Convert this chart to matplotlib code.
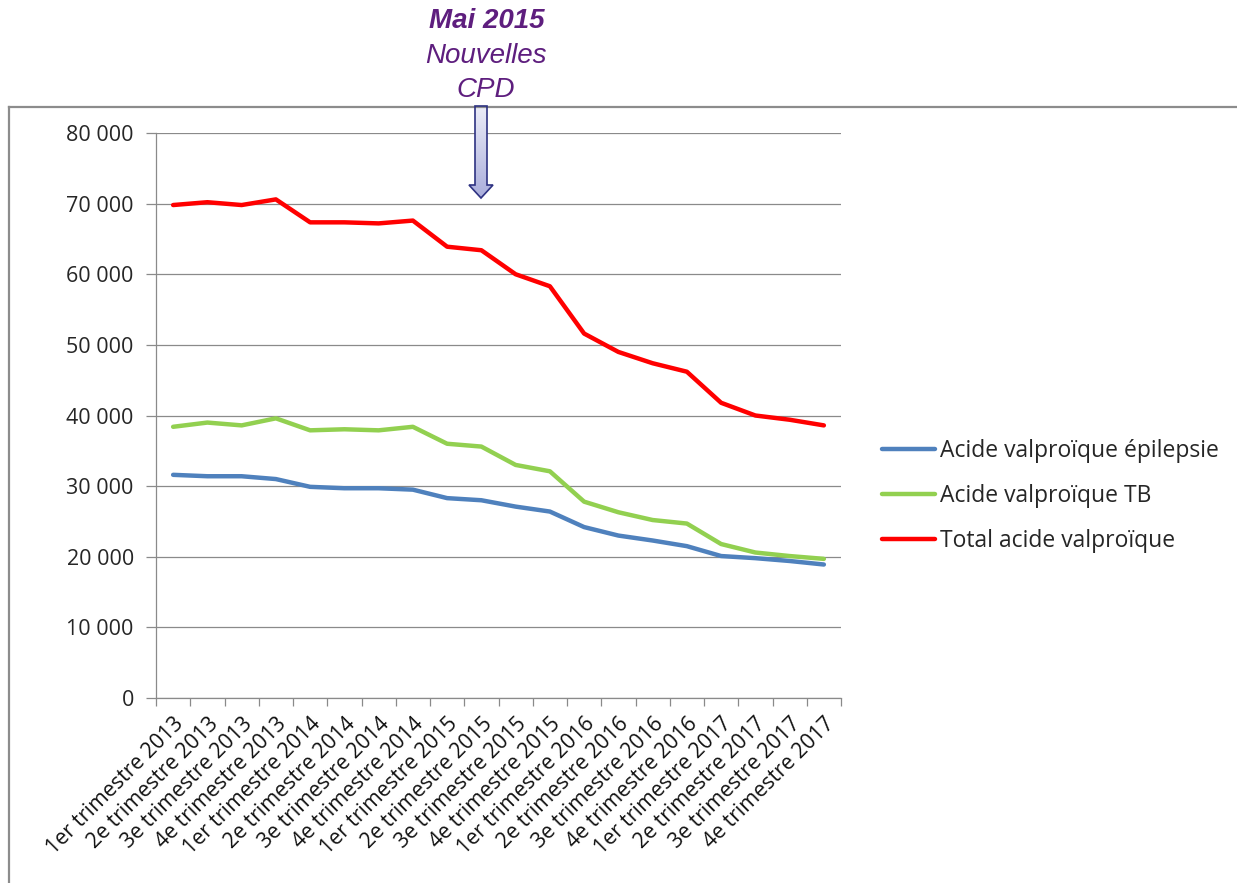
import matplotlib
matplotlib.use("Agg")
import matplotlib.pyplot as plt
import numpy as np
from matplotlib.patches import Polygon
from matplotlib.lines import Line2D
from matplotlib.colors import LinearSegmentedColormap

plt.rcParams['font.family'] = ['Open Sans', 'DejaVu Sans']

categories = [
    "1er trimestre 2013", "2e trimestre 2013", "3e trimestre 2013", "4e trimestre 2013",
    "1er trimestre 2014", "2e trimestre 2014", "3e trimestre 2014", "4e trimestre 2014",
    "1er trimestre 2015", "2e trimestre 2015", "3e trimestre 2015", "4e trimestre 2015",
    "1er trimestre 2016", "2e trimestre 2016", "3e trimestre 2016", "4e trimestre 2016",
    "1er trimestre 2017", "2e trimestre 2017", "3e trimestre 2017", "4e trimestre 2017",
]
epilepsie = [31600, 31400, 31400, 31000, 29900, 29700, 29700, 29500, 28300, 28000,
             27100, 26400, 24200, 23000, 22300, 21500, 20100, 19800, 19400, 18900]
tb = [38400, 39000, 38600, 39600, 37900, 38050, 37900, 38400, 36000, 35600,
      33000, 32100, 27800, 26300, 25200, 24700, 21800, 20600, 20100, 19700]
total = [69800, 70200, 69800, 70600, 67350, 67350, 67200, 67600, 63900, 63400,
         60000, 58300, 51600, 49000, 47400, 46200, 41800, 40000, 39400, 38600]
series_labels = ["Acide valproïque épilepsie", "Acide valproïque TB", "Total acide valproïque"]
yticks = [0, 10000, 20000, 30000, 40000, 50000, 60000, 70000, 80000]
ytick_labels = ["0", "10 000", "20 000", "30 000", "40 000", "50 000", "60 000", "70 000", "80 000"]

W, H = 1237, 883
fig = plt.figure(figsize=(W / 100, H / 100), dpi=100)

def fx(px):
    return px / W

def fy(py):
    return 1 - py / H

ax = fig.add_axes([fx(156), fy(698), fx(841) - fx(156), fy(133) - fy(698)])

x = np.arange(len(categories))
colors = ["#4F81BD", "#92D050", "#FF0000"]
for vals, c, lab in zip([epilepsie, tb, total], colors, series_labels):
    ax.plot(x, vals, color=c, lw=3.2, label=lab, solid_capstyle='round',
            solid_joinstyle='round', zorder=3)

ax.set_xlim(-0.5, len(categories) - 0.5)
ax.set_ylim(0, 80000)
ax.set_yticks(yticks)
ax.set_yticklabels(ytick_labels, fontsize=15.5, color="#262626")
ax.yaxis.grid(True, color="#8a8a8a", lw=0.9)
ax.set_axisbelow(True)
for s in ["top", "right"]:
    ax.spines[s].set_visible(False)
for s in ["left", "bottom"]:
    ax.spines[s].set_color("#8a8a8a")
    ax.spines[s].set_linewidth(0.9)
ax.tick_params(axis='y', length=7, color="#8a8a8a", width=0.9, pad=9)

# category boundary ticks on x axis
ax.set_xticks(np.arange(len(categories) + 1) - 0.5)
ax.set_xticklabels([])
ax.tick_params(axis='x', which='major', length=6, color="#8a8a8a", width=0.9)
ax.set_xticks(x, minor=True)
ax.set_xticklabels(categories, minor=True, rotation=45, ha='right', rotation_mode='anchor',
                   fontsize=15.3, color="#111111")
ax.tick_params(axis='x', which='minor', length=0, pad=11)

leg = fig.legend(loc='center left', bbox_to_anchor=(fx(882), fy(496)), frameon=False,
                 fontsize=16.5, handlelength=2.3, labelspacing=0.92, handletextpad=0.25,
                 borderpad=0, borderaxespad=0)
for line in leg.get_lines():
    line.set_linewidth(3.2)
for t in leg.get_texts():
    t.set_color("#262626")

# outer chart frame (top and left edges)
fig.add_artist(Line2D([fx(9), 1.0], [fy(107), fy(107)], color="#8c8c8c", lw=1.6))
fig.add_artist(Line2D([fx(9), fx(9)], [fy(107), 0.0], color="#8c8c8c", lw=1.6))

# annotation text
purple = "#5E1E7E"
fig.text(fx(487), fy(21), "Mai 2015", ha='center', va='center', fontsize=20,
         fontweight='bold', fontstyle='italic', color=purple, family='Liberation Sans')
fig.text(fx(486), fy(56), "Nouvelles", ha='center', va='center', fontsize=20,
         fontstyle='italic', color=purple, family='Liberation Sans')
fig.text(fx(486), fy(90), "CPD", ha='center', va='center', fontsize=20,
         fontstyle='italic', color=purple, family='Liberation Sans')

# block arrow
cx = 481
pts_px = [(cx - 6, 106), (cx + 6, 106), (cx + 6, 185), (cx + 12, 185), (cx, 198),
          (cx - 12, 185), (cx - 6, 185)]
pts = [(fx(a), fy(b)) for a, b in pts_px]
poly = Polygon(pts, closed=True, transform=fig.transFigure, facecolor='none',
               edgecolor="#2E3282", lw=1.2, zorder=10)
fig.add_artist(poly)
grad = np.linspace(0, 1, 256).reshape(-1, 1)
cmap = LinearSegmentedColormap.from_list("g", ["#ECEDF8", "#A9ADDB"])
gax = fig.add_axes([fx(cx - 12), fy(198), fx(24), fy(106) - fy(198)])
gax.axis('off')
im = gax.imshow(grad, aspect='auto', cmap=cmap, extent=[0, 1, 0, 1], origin='upper')
clip = Polygon(pts, closed=True, transform=fig.transFigure)
im.set_clip_path(clip)

fig.savefig("out.png", dpi=100)
